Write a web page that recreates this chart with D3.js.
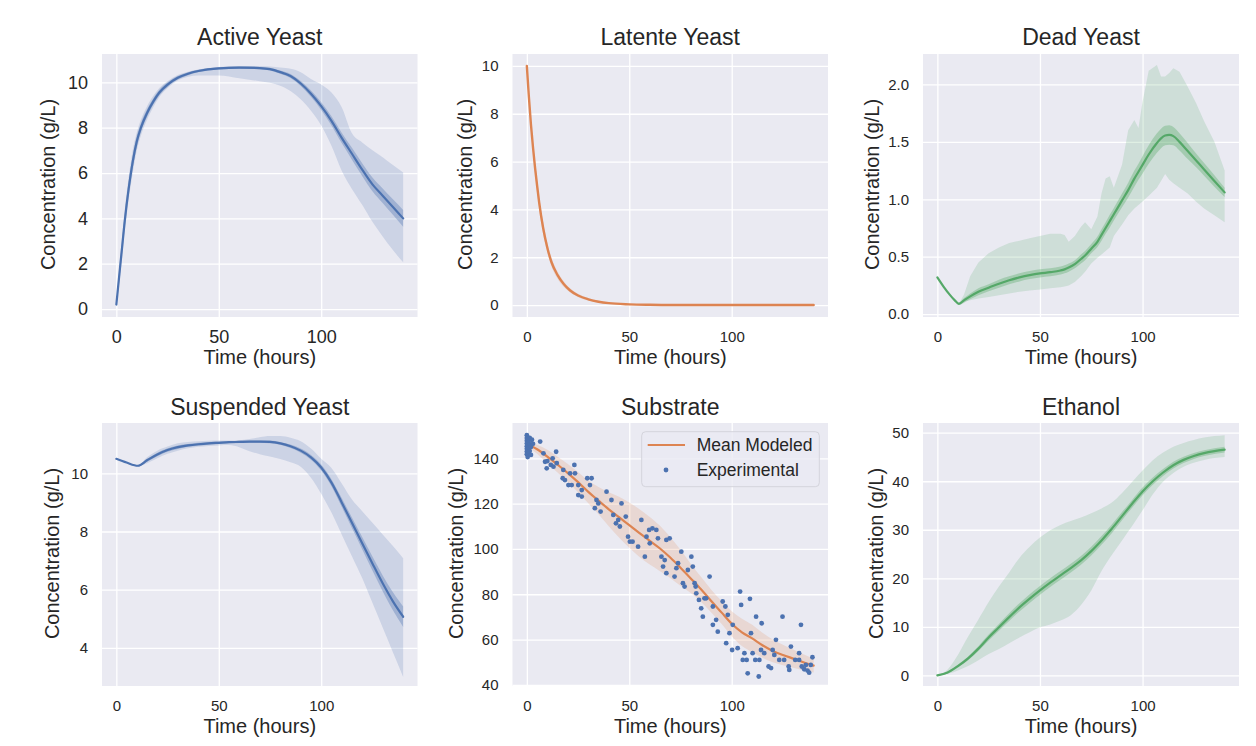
<!DOCTYPE html>
<html><head><meta charset="utf-8">
<script src="https://cdn.jsdelivr.net/npm/d3@7"></script>
<style>
body{margin:0;background:#fff}
svg{display:block}
text{font-family:"Liberation Sans",Arial,Helvetica,sans-serif;fill:#262626}
</style>
</head><body>
<svg id="c" width="1256" height="746"></svg>
<script>
// ---------------- DATA ----------------
const xTicks = [0, 50, 100];

// Active Yeast
const ayT     = [0,1,2,3,4,5,6,8,10,12,15,18,21,25,30,35,40,50,60,70,75,80,85,90,95,100,105,110,115,120,125,130,135,140];
const ayMean  = [0.2,1.1,2.0,2.9,3.8,4.6,5.3,6.5,7.4,8.0,8.65,9.15,9.55,9.9,10.2,10.38,10.5,10.62,10.65,10.63,10.58,10.45,10.28,9.95,9.5,8.95,8.3,7.55,6.85,6.15,5.5,5.0,4.5,4.0];
const ayHi    = [0.25,1.4,2.4,3.4,4.3,5.1,5.8,7.0,7.8,8.35,8.95,9.4,9.75,10.05,10.32,10.47,10.57,10.68,10.72,10.72,10.7,10.65,10.6,10.45,10.15,9.9,9.55,8.9,7.75,7.35,7.0,6.7,6.35,6.02];
const ayLo    = [0.15,0.8,1.6,2.4,3.3,4.1,4.8,6.0,7.0,7.65,8.35,8.9,9.35,9.75,10.08,10.25,10.3,10.3,10.18,10.05,9.98,9.85,9.62,9.25,8.75,8.1,7.2,6.1,5.3,4.6,3.85,3.2,2.6,2.06];
const ayInner = [0.05,0.2,0.25,0.28,0.3,0.3,0.3,0.28,0.25,0.2,0.17,0.14,0.12,0.1,0.08,0.07,0.06,0.05,0.05,0.05,0.06,0.07,0.09,0.11,0.14,0.17,0.2,0.23,0.26,0.28,0.3,0.32,0.34,0.37];
const ayYTicks = [0,2,4,6,8,10];

// Latente Yeast
const lyT     = [0,1,2,3,4,5,6,8,10,12,15,18,21,25,30,35,40,50,60,70,75,80,85,90,95,100,105,110,115,120,125,130,135,140];
const lyMean  = [10,8.7,7.55,6.6,5.75,5.0,4.3,3.2,2.4,1.8,1.25,0.88,0.62,0.4,0.24,0.14,0.08,0.03,0.01,0,0,0,0,0,0,0,0,0,0,0,0,0,0,0];
const lyBandHW = [0.05,0.12,0.18,0.22,0.25,0.26,0.26,0.25,0.22,0.19,0.15,0.12,0.09,0.07,0.05,0.04,0.03,0.02,0.015,0.01,0.01,0.01,0.01,0.01,0.01,0.01,0.01,0.01,0.01,0.01,0.01,0.01,0.01,0.01];
const lyYTicks = [0,2,4,6,8,10];

// Dead Yeast
const dyT     = [0,3,6,8.5,10.5,13,16,20,25,30,35,40,45,50,55,60,62,64,67,70,72,75,78,80,82,84,86,90,93,96,98,100,103,107,109,111,113,115,118,122,126,130,135,140];
const dyMean  = [0.32,0.24,0.17,0.12,0.09,0.12,0.155,0.195,0.23,0.265,0.295,0.32,0.34,0.355,0.365,0.38,0.39,0.405,0.435,0.48,0.51,0.57,0.63,0.69,0.75,0.81,0.87,0.99,1.08,1.18,1.24,1.30,1.39,1.49,1.53,1.555,1.56,1.55,1.50,1.42,1.34,1.26,1.16,1.06];
const dyHi    = [0.32,0.24,0.17,0.12,0.09,0.17,0.33,0.45,0.53,0.58,0.62,0.64,0.66,0.68,0.70,0.70,0.69,0.63,0.68,0.76,0.80,0.74,0.85,1.05,1.18,1.20,1.10,1.30,1.60,1.69,1.62,1.85,2.12,2.17,2.07,2.07,2.10,2.14,2.11,1.98,1.84,1.68,1.50,1.25];
const dyLo    = [0.32,0.24,0.17,0.12,0.09,0.11,0.12,0.135,0.15,0.165,0.18,0.195,0.205,0.215,0.225,0.235,0.24,0.25,0.28,0.33,0.37,0.44,0.49,0.52,0.55,0.58,0.68,0.78,0.86,0.92,0.95,0.98,1.03,1.10,1.16,1.22,1.17,1.14,1.10,1.05,0.98,0.92,0.86,0.80];
const dyInner = [0,0,0,0,0.01,0.02,0.025,0.03,0.03,0.035,0.035,0.035,0.035,0.035,0.035,0.035,0.035,0.035,0.035,0.04,0.04,0.04,0.045,0.05,0.05,0.055,0.055,0.06,0.065,0.07,0.07,0.075,0.08,0.085,0.085,0.085,0.085,0.08,0.075,0.07,0.06,0.055,0.05,0.04];
const dyYTicks = [0,0.5,1.0,1.5,2.0];

// Suspended Yeast
const syT     = [0,5,10.5,15,20,25,30,35,40,45,50,55,60,65,70,75,80,85,90,95,100,105,110,115,120,125,130,135,140];
const syMean  = [10.5,10.37,10.26,10.45,10.65,10.8,10.9,10.96,11.0,11.03,11.05,11.07,11.08,11.09,11.09,11.08,11.03,10.93,10.78,10.55,10.2,9.68,9.0,8.3,7.6,6.9,6.22,5.6,5.07];
const syHi    = [10.5,10.37,10.26,10.55,10.78,10.92,11.03,11.08,11.1,11.12,11.13,11.13,11.14,11.18,11.24,11.28,11.28,11.22,11.1,10.85,10.5,10.18,9.65,9.1,8.7,8.3,7.9,7.5,7.08];
const syLo    = [10.5,10.37,10.26,10.35,10.52,10.67,10.78,10.86,10.91,10.94,10.96,10.97,10.9,10.76,10.66,10.58,10.49,10.38,10.23,9.85,9.3,8.65,7.9,7.15,6.4,5.55,4.7,3.85,3.0];
const syInner = [0,0,0.02,0.05,0.06,0.06,0.06,0.05,0.05,0.05,0.04,0.04,0.04,0.04,0.04,0.05,0.05,0.06,0.07,0.08,0.1,0.12,0.15,0.18,0.21,0.24,0.27,0.31,0.35];
const syYTicks = [4,6,8,10];

// Substrate
const suT     = [0,5,10,15,20,25,30,35,40,45,50,55,60,65,70,75,80,85,90,95,100,105,110,115,120,125,130,135,140];
const suMean  = [146.5,144.0,140.8,137.2,133.5,129.5,125.2,121.3,117.5,114.0,110.5,107.0,103.6,100.2,96.2,91.7,87.0,82.2,77.0,72.0,67.0,63.2,60.5,57.5,55.0,53.2,51.6,50.0,48.5];
const suBandHW = [1,2,3,3.5,4,4.5,5,6,7.5,9,10,10.5,10.5,10,9,8,6.5,5.5,5,5,5.5,6,6,5.5,5,4.5,4,3.5,3];
const suYTicks = [40,60,80,100,120,140];
const expT = [0,0,0,0,0,0,0,0,0.4,0.4,0.4,0.4,0.9,0.9,0.9,1.4,1.4,1.4,2,2,2.5,3,
  6.5,8.1,8.9,9.7,10,11.7,12.6,13,14.3,14.6,17.5,17.8,18.6,20.3,21.1,21.9,23.2,23.5,25.1,25.1,26.8,26.8,29.5,30.8,31.6,33.2,34,34.9,36,38.9,41.3,42.2,43.5,44.6,45.4,46.2,48.3,49.4,50.3,51.6,54.3,55.9,57.6,58.4,59.7,60,61.3,63.2,64,65.7,66.5,67.3,68.1,68.1,69.7,72.1,73,73.8,75.4,76.2,77,78.6,80.3,81,81.9,82.4,82.7,84,85.1,85.9,86.7,87.5,89.2,90.8,90.8,92.4,93.2,95.6,96.9,97.3,98.1,98.9,100.2,100.5,102.9,104.1,104.6,105.4,106.2,107.3,107.8,108.9,109.4,110.2,111.5,111.9,113.2,113.5,114.3,114.6,115.9,118,119.2,120,120.8,121.6,123.2,124.8,125.6,127.8,128.1,128.9,131,132.9,132.9,133.8,134.2,135.4,136.2,137,137.8,138.6,139.4];
const expV = [150.2,149,147.8,146.5,145.3,144.2,143,141.8,148.5,145.8,143.5,140.6,147.2,144.6,142.4,149,146,143.2,145,141.5,148.2,146.4,
  147.4,142.2,138.5,135.6,138.8,137.1,140,136.3,142.9,137.9,131.2,134.9,130.4,128.2,133.4,128.2,137.1,133.4,128.2,123.8,123.1,126,131.2,128.2,131.2,118,121.6,120.1,116.5,125.3,121.6,115,111.3,112.8,109.9,120.1,114.3,105.4,103.2,103.2,101,112.8,96.6,105.4,108.4,102.5,109.1,108.4,104.7,96.6,92.2,95.1,104,89.3,104.7,87.8,91.5,93.7,98.8,84.9,83.4,90.7,96.6,92.2,84.9,83.4,80.4,77.5,73.8,70.1,78.2,78.2,87.8,66.5,74.6,68.7,63.5,76.8,74.6,58.4,70.9,62.8,55.4,66.5,56.2,81.2,75.3,51,54,51,45.1,78,62.8,54,51,70.1,43.7,51,55.4,67.2,54,48.1,47.4,55.4,53.2,59.9,51,70.1,51,48.1,46.6,56.9,51,54,51,66.5,48.1,46.9,48.8,46.3,45.4,48.8,52.2];

// Ethanol
const etT     = [0,5,10,15,20,25,30,35,40,45,50,55,60,65,70,75,80,85,90,95,100,105,110,115,120,125,130,135,140];
const etMean  = [0,0.6,1.9,3.5,5.5,7.8,9.9,12.0,14.0,15.8,17.5,19.1,20.6,22.1,23.7,25.6,27.8,30.2,32.8,35.4,37.9,40.0,41.8,43.3,44.4,45.2,45.8,46.2,46.5];
const etHi    = [0,1.2,4.2,8.0,11.5,15.1,18.3,21.2,24.2,26.5,28.4,29.9,31.0,31.8,32.5,33.4,34.4,35.6,37.6,39.9,42.2,44.3,45.9,47.1,47.9,48.5,49.0,49.3,49.5];
const etLo    = [0,0.3,1.0,1.9,3.1,4.4,5.4,6.6,7.8,8.9,9.9,10.5,11.3,12.4,14.5,17.5,21.5,24.8,27.8,30.8,34.0,37.3,39.9,41.7,43.0,43.8,44.4,44.8,45.0];
const etInner = [0.1,0.2,0.3,0.4,0.5,0.6,0.7,0.8,0.85,0.9,0.9,0.9,0.9,0.9,0.9,0.9,0.9,0.9,0.85,0.8,0.8,0.75,0.7,0.7,0.65,0.6,0.6,0.6,0.6];
const etYTicks = [0,10,20,30,40,50];

// ---------------- LAYOUT ----------------
const BLUE = "#4C72B0", ORANGE = "#DD8452", GREEN = "#55A868";
const cols = [[102, 417.5], [512.5, 828], [923, 1239]];
const rows = [[54, 317], [423, 686]];
const xDomain = [-7, 147];

const panels = [
  {title:"Active Yeast", col:0, row:0, t:ayT, mean:ayMean, lo:ayLo, hi:ayHi, inner:ayInner, color:BLUE,
   yDomain:[-0.35, 11.25], yTicks:ayYTicks, fmt:d3.format("d"), tickFs:18, xTickPad:13, yLabX:50, curve:d3.curveMonotoneX},
  {title:"Latente Yeast", col:1, row:0, t:lyT, mean:lyMean, hw:lyBandHW, color:ORANGE,
   yDomain:[-0.5, 10.5], yTicks:lyYTicks, fmt:d3.format("d"), tickFs:15, xTickPad:14, yLabX:466.7, curve:d3.curveMonotoneX, lineW:2.4},
  {title:"Dead Yeast", col:2, row:0, t:dyT, mean:dyMean, lo:dyLo, hi:dyHi, inner:dyInner, color:GREEN,
   yDomain:[-0.025, 2.265], yTicks:dyYTicks, fmt:d3.format(".1f"), tickFs:15, xTickPad:14, yLabX:874, curve:d3.curveLinear},
  {title:"Suspended Yeast", col:0, row:1, t:syT, mean:syMean, lo:syLo, hi:syHi, inner:syInner, color:BLUE,
   yDomain:[2.69, 11.73], yTicks:syYTicks, fmt:d3.format("d"), tickFs:15, xTickPad:14, yLabX:54, curve:d3.curveMonotoneX},
  {title:"Substrate", col:1, row:1, t:suT, mean:suMean, hw:suBandHW, color:ORANGE,
   yDomain:[39.5, 155.6], yTicks:suYTicks, fmt:d3.format("d"), tickFs:15, xTickPad:14, yLabX:458, curve:d3.curveMonotoneX, scatter:true, legend:true},
  {title:"Ethanol", col:2, row:1, t:etT, mean:etMean, lo:etLo, hi:etHi, inner:etInner, color:GREEN,
   yDomain:[-2.2, 52], yTicks:etYTicks, fmt:d3.format("d"), tickFs:15, xTickPad:14, yLabX:877.5, curve:d3.curveMonotoneX}
];

const svg = d3.select("#c");

panels.forEach((p, pi) => {
  const [x0, x1] = cols[p.col], [y0, y1] = rows[p.row];
  const x = d3.scaleLinear().domain(xDomain).range([x0, x1]);
  const y = d3.scaleLinear().domain(p.yDomain).range([y1, y0]);
  const g = svg.append("g");
  const cid = "clip" + pi;
  g.append("clipPath").attr("id", cid).append("rect")
    .attr("x", x0).attr("y", y0).attr("width", x1 - x0).attr("height", y1 - y0);

  g.append("rect").attr("x", x0).attr("y", y0).attr("width", x1 - x0).attr("height", y1 - y0).attr("fill", "#EAEAF2");

  // grid lines via axes
  const gx = g.append("g").attr("transform", `translate(0,${y1})`)
    .call(d3.axisBottom(x).tickValues(xTicks).tickSize(-(y1 - y0)).tickFormat(""));
  gx.select(".domain").remove();
  gx.selectAll("line").attr("stroke", "#fff").attr("stroke-width", 1.3);
  const gy = g.append("g").attr("transform", `translate(${x0},0)`)
    .call(d3.axisLeft(y).tickValues(p.yTicks).tickSize(-(x1 - x0)).tickFormat(""));
  gy.select(".domain").remove();
  gy.selectAll("line").attr("stroke", "#fff").attr("stroke-width", 1.3);

  const data = p.t.map((t, i) => {
    const m = p.mean[i];
    const lo = p.lo ? p.lo[i] : m - p.hw[i];
    const hi = p.hi ? p.hi[i] : m + p.hw[i];
    const inn = p.inner ? p.inner[i] : 0;
    return {t, m, lo, hi, ilo: m - inn, ihi: m + inn};
  });

  const plot = g.append("g").attr("clip-path", `url(#${cid})`);
  plot.append("path").datum(data)
    .attr("d", d3.area().x(d => x(d.t)).y0(d => y(d.lo)).y1(d => y(d.hi)).curve(p.curve))
    .attr("fill", p.color).attr("fill-opacity", 0.19);
  if (p.inner) {
    plot.append("path").datum(data)
      .attr("d", d3.area().x(d => x(d.t)).y0(d => y(d.ilo)).y1(d => y(d.ihi)).curve(d3.curveMonotoneX))
      .attr("fill", p.color).attr("fill-opacity", 0.35);
  }
  plot.append("path").datum(data)
    .attr("d", d3.line().x(d => x(d.t)).y(d => y(d.m)).curve(d3.curveMonotoneX))
    .attr("fill", "none").attr("stroke", p.color).attr("stroke-width", p.lineW || 2.2)
    .attr("stroke-linejoin", "round").attr("stroke-linecap", "round");

  if (p.scatter) {
    plot.selectAll("circle.exp").data(expT.map((t, i) => [t, expV[i]])).join("circle")
      .attr("class", "exp").attr("cx", d => x(d[0])).attr("cy", d => y(d[1])).attr("r", 2.4)
      .attr("fill", BLUE);
  }

  // tick labels via axes
  const ax = g.append("g").attr("transform", `translate(0,${y1})`)
    .call(d3.axisBottom(x).tickValues(xTicks).tickSize(0).tickPadding(p.xTickPad).tickFormat(d3.format("d")));
  ax.select(".domain").remove();
  ax.selectAll("text").style("font-size", p.tickFs + "px").attr("fill", "#262626")
    .style("font-family", '"Liberation Sans",Arial,sans-serif');
  const ay = g.append("g").attr("transform", `translate(${x0},0)`)
    .call(d3.axisLeft(y).tickValues(p.yTicks).tickSize(0).tickPadding(14).tickFormat(p.fmt));
  ay.select(".domain").remove();
  ay.selectAll("text").style("font-size", p.tickFs + "px").attr("fill", "#262626")
    .style("font-family", '"Liberation Sans",Arial,sans-serif');

  const cx = (x0 + x1) / 2;
  g.append("text").attr("x", cx).attr("y", p.row === 0 ? 45 : 415).attr("text-anchor", "middle")
    .style("font-size", "23px").text(p.title);
  g.append("text").attr("x", cx).attr("y", p.row === 0 ? 364 : 733).attr("text-anchor", "middle")
    .style("font-size", "20px").text("Time (hours)");
  const cy = (y0 + y1) / 2 - 1;
  g.append("text").attr("transform", `translate(${p.yLabX},${cy}) rotate(-90)`).attr("dy", "0.26em")
    .attr("text-anchor", "middle").style("font-size", "20px").text("Concentration (g/L)");

  if (p.legend) {
    const lg = g.append("g");
    lg.append("rect").attr("x", 641.7).attr("y", 431.7).attr("width", 177.6).attr("height", 55).attr("rx", 4)
      .attr("fill", "#EAEAF2").attr("fill-opacity", 0.8).attr("stroke", "#d4d4dc").attr("stroke-width", 1);
    lg.append("line").attr("x1", 647.7).attr("x2", 685).attr("y1", 445).attr("y2", 445)
      .attr("stroke", ORANGE).attr("stroke-width", 2.2);
    lg.append("circle").attr("cx", 666).attr("cy", 470).attr("r", 2.4).attr("fill", BLUE);
    lg.append("text").attr("x", 696.7).attr("y", 445).attr("dy", "0.35em").style("font-size", "17.5px").text("Mean Modeled");
    lg.append("text").attr("x", 696.7).attr("y", 470).attr("dy", "0.35em").style("font-size", "17.5px").text("Experimental");
  }
});
</script>
</body></html>
